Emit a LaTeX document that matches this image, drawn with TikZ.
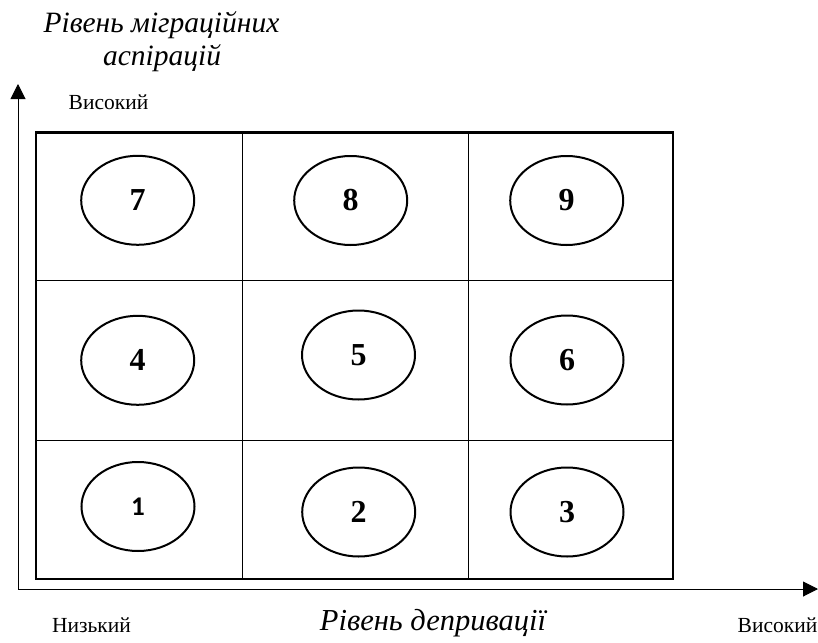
\documentclass[tikz,border=0pt]{standalone}
\usepackage{fontspec}
\setmainfont{Liberation Serif}
\newfontfamily\carlito{Carlito}
\usetikzlibrary{arrows.meta,shapes.geometric}
\begin{document}
\begin{tikzpicture}[x=1pt,y=-1pt,
  cell/.style={draw,line width=2pt,ellipse,minimum width=113pt,minimum height=89pt,inner sep=0pt,font=\fontsize{32}{34}\selectfont\bfseries},
  axis/.style={line width=1pt,-{Triangle[length=15pt,width=15pt]}},
  lbl/.style={font=\fontsize{21.5}{24}\selectfont,anchor=base},
  ttl/.style={font=\fontsize{29.5}{32}\selectfont\itshape,anchor=base}]
\useasboundingbox (0,0) rectangle (818,642);
% axes
\coordinate (O) at (18,589);
\coordinate (Ytip) at (18,84);
\coordinate (Xtip) at (818,589);
\draw[axis] (O) -- (Ytip);
\draw[axis] (O) -- (Xtip);
% grid
\draw[line width=1pt] (242.5,132.5) -- (242.5,579) (468.5,132.5) -- (468.5,579)
  (36,280.5) -- (673,280.5) (36,440) -- (673,440);
\draw[line width=2.5pt] (36,132.5) rectangle (673,579);
% ellipses
\node[cell] (c7) at (137.7,200.3) {7};
\node[cell] (c8) at (350.7,200.5) {8};
\node[cell] (c9) at (566.7,200.5) {9};
\node[cell] (c4) at (137.7,360.3) {4};
\node[cell] (c5) at (358.5,355) {5};
\node[cell] (c6) at (567,360) {6};
\node[cell,font=\fontsize{27}{29}\selectfont\carlito\bfseries] (c1) at (138,506.5) {1};
\node[cell] (c2) at (358.7,512) {2};
\node[cell] (c3) at (567,512) {3};
% labels
\node[ttl] (t1) at (161.5,33) {Рівень міграційних};
\node[ttl] (t2) at (162,66) {аспірацій};
\node[lbl] (hy) at (108.5,109) {Високий};
\node[lbl] (lx) at (91.5,632) {Низький};
\node[lbl] (hx) at (777.5,632) {Високий};
\node[ttl,font=\fontsize{30.5}{33}\selectfont\itshape] (tx) at (433,630.5) {Рівень депривації};
\end{tikzpicture}
\end{document}
